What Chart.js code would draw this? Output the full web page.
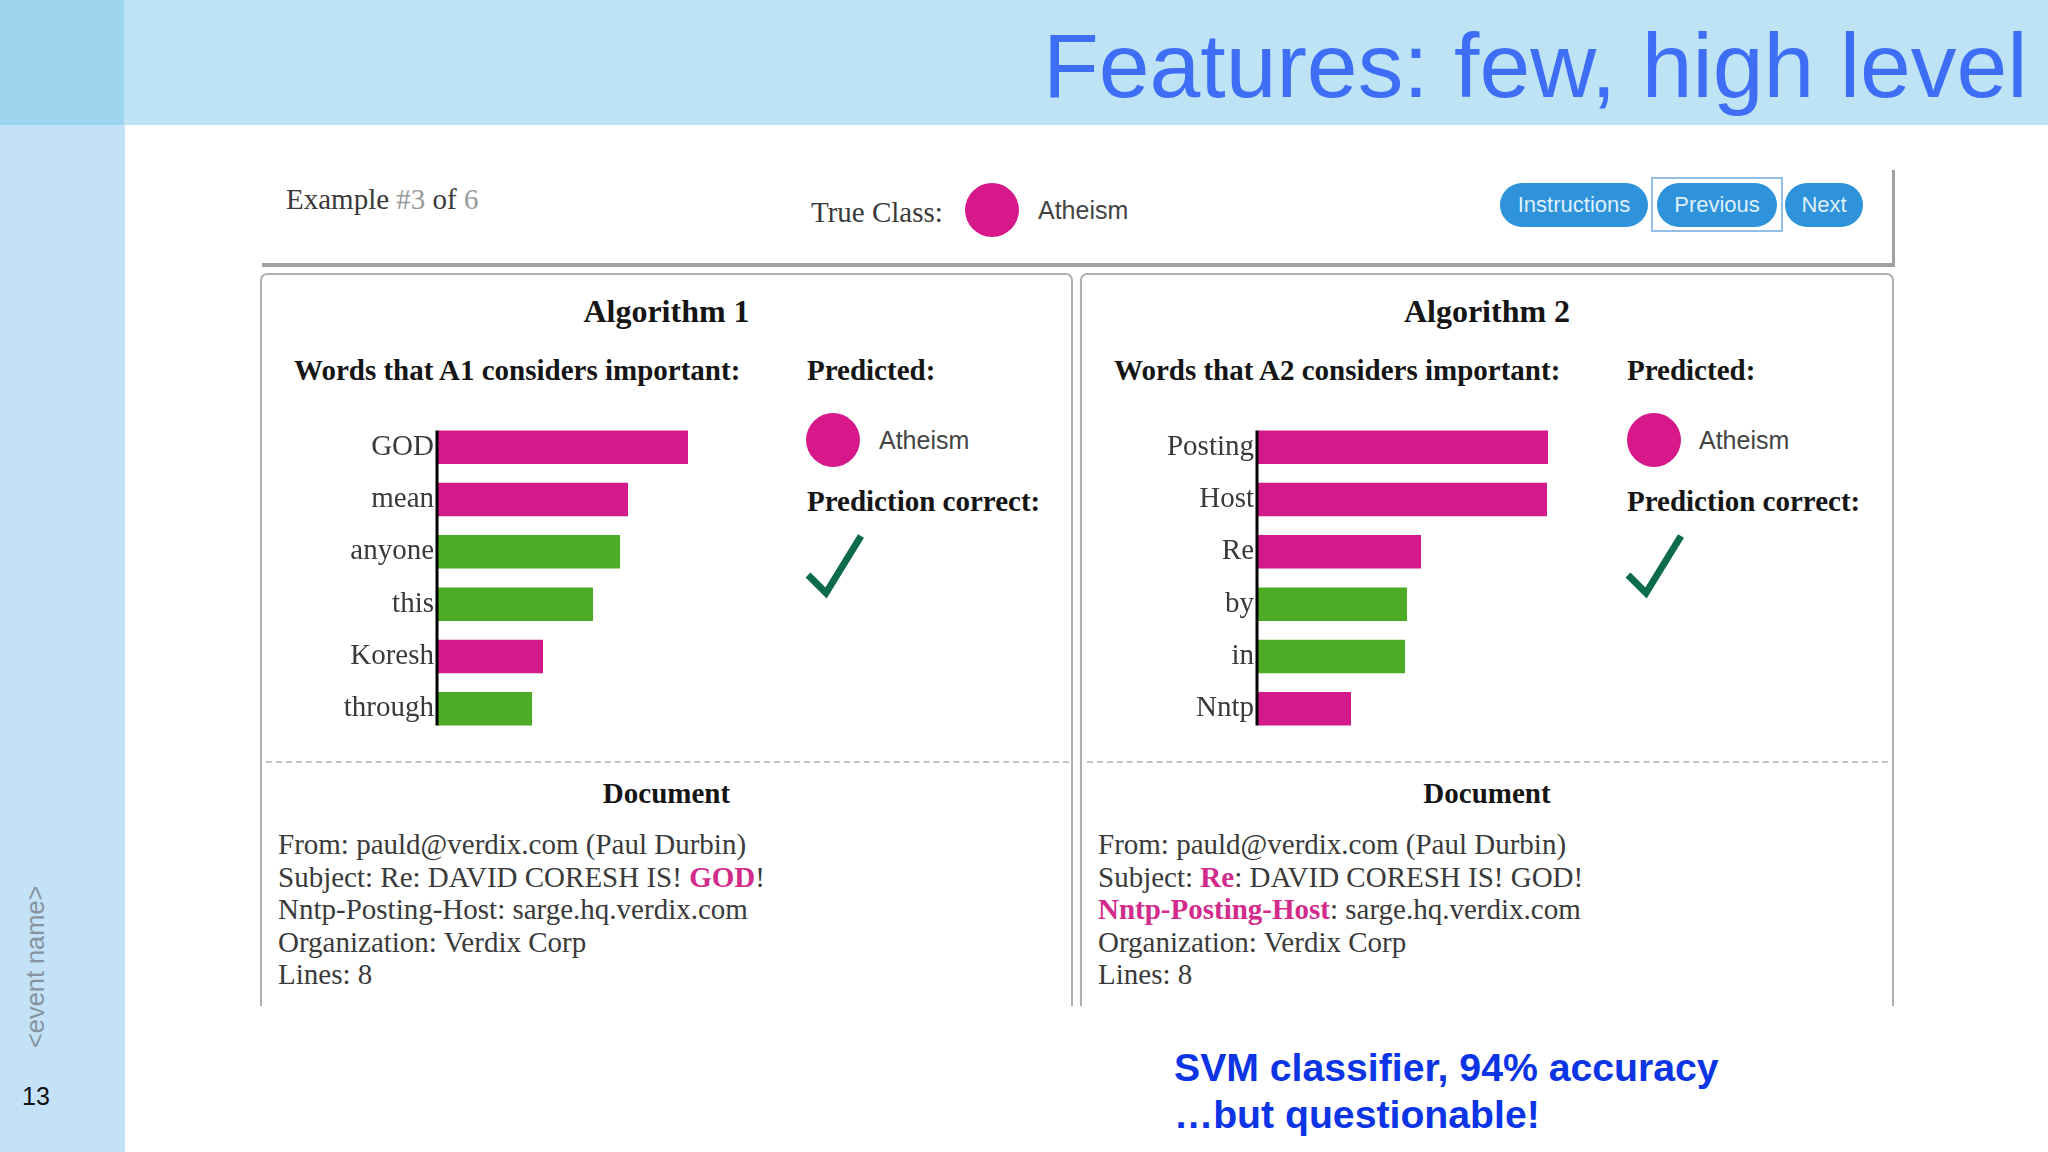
<!DOCTYPE html>
<html>
<head>
<meta charset="utf-8">
<title>Features: few, high level</title>
<script src="https://cdn.jsdelivr.net/npm/chart.js@4"></script>
<style>
html, body { margin: 0; padding: 0; background: #fff; }
body { position: relative; width: 2048px; height: 1152px; overflow: hidden; }
.abs { position: absolute; white-space: nowrap; }
.band { position: absolute; }
.serif { font-family: "Liberation Serif", serif; font-size: 29px; line-height: 29px; color: #3a3a3a; }
.head { font-weight: bold; color: #151515; }
.sans { font-family: "Liberation Sans", sans-serif; }
.atheism { font-size: 25px; line-height: 25px; color: #444; }
.dot { position: absolute; width: 54px; height: 54px; border-radius: 50%; background: #d6188a; }
.btn { position: absolute; top: 183px; height: 44px; border-radius: 22px; background: #2f93dc; color: #dff0fb;
       font: 22px/44px "Liberation Sans", sans-serif; text-align: center; }
.panel { position: absolute; top: 273px; width: 808px; height: 733px; box-sizing: border-box;
         border: 2px solid #b0b0b4; border-bottom: none; border-radius: 7px 7px 0 0; }
.dash { position: absolute; top: 761px; height: 0; border-top: 2px dashed #c4c4c4; }
.doc { font-family: "Liberation Serif", serif; font-size: 29px; line-height: 32.6px; color: #3a3a3a; }
.hit { color: #d32b8c; font-weight: bold; }
canvas { position: absolute; }
</style>
</head>
<body>
<div class="band" style="left:0;top:0;width:2048px;height:125px;background:#bde3f5"></div>
<div class="band" style="left:0;top:125px;width:125px;height:1027px;background:#c3e2f7"></div>
<div class="band" style="left:0;top:0;width:124px;height:125px;background:#9dd4ee"></div>

<div class="abs sans" style="left:1043px;top:20px;font-size:91.3px;line-height:90px;color:#3d6ef5">Features: few, high level</div>
<div class="abs sans" style="left:35px;top:1048px;font-size:25.4px;line-height:25px;color:#87949f;transform-origin:0 0;transform:rotate(-90deg) translateY(-12px)">&lt;event name&gt;</div>
<div class="abs sans" style="left:22px;top:1084px;font-size:25px;line-height:25px;color:#111">13</div>

<!-- top strip -->
<div class="band" style="left:262px;top:170px;width:1630px;height:93px;border-right:3px solid #a0a0a0;border-bottom:4px solid #a0a0a0"></div>
<div class="abs serif" style="left:286px;top:185px">Example <span style="color:#999">#3</span> of <span style="color:#999">6</span></div>
<div class="abs serif" style="left:811px;top:198px">True Class:</div>
<div class="dot" style="left:965px;top:183px"></div>
<div class="abs sans atheism" style="left:1038px;top:198px">Atheism</div>
<div class="btn" style="left:1500px;width:148px">Instructions</div>
<div class="band" style="left:1651px;top:177px;width:128px;height:51px;border:2px solid #93bfe6"></div>
<div class="btn" style="left:1657px;width:120px">Previous</div>
<div class="btn" style="left:1785px;width:78px">Next</div>

<!-- left panel -->
<div class="panel" style="left:260px;width:813px"></div>
<div class="abs serif head" style="left:260px;width:813px;top:295px;text-align:center;font-size:32px;line-height:32px">Algorithm 1</div>
<div class="abs serif head" style="left:294px;top:356px">Words that A1 considers important:</div>
<div class="abs serif head" style="left:807px;top:356px">Predicted:</div>
<div class="dot" style="left:806px;top:413px"></div>
<div class="abs sans atheism" style="left:879px;top:428px">Atheism</div>
<div class="abs serif head" style="left:807px;top:487px">Prediction correct:</div>
<svg class="abs" style="left:800px;top:530px" width="70" height="70"><polyline points="8,45 26,63 61,6" fill="none" stroke="#0b6b4b" stroke-width="7"/></svg>
<canvas id="chartA1" style="left:260px;top:421px" width="540" height="314"></canvas>
<div class="dash" style="left:266px;width:803px"></div>
<div class="abs serif head" style="left:260px;width:813px;top:779px;text-align:center">Document</div>
<div class="abs doc" style="left:278px;top:828px">From: pauld@verdix.com (Paul Durbin)<br>Subject: Re: DAVID CORESH IS! <span class="hit">GOD</span>!<br>Nntp-Posting-Host: sarge.hq.verdix.com<br>Organization: Verdix Corp<br>Lines: 8</div>

<!-- right panel -->
<div class="panel" style="left:1080px;width:814px"></div>
<div class="abs serif head" style="left:1080px;width:814px;top:295px;text-align:center;font-size:32px;line-height:32px">Algorithm 2</div>
<div class="abs serif head" style="left:1114px;top:356px">Words that A2 considers important:</div>
<div class="abs serif head" style="left:1627px;top:356px">Predicted:</div>
<div class="dot" style="left:1627px;top:413px"></div>
<div class="abs sans atheism" style="left:1699px;top:428px">Atheism</div>
<div class="abs serif head" style="left:1627px;top:487px">Prediction correct:</div>
<svg class="abs" style="left:1620px;top:530px" width="70" height="70"><polyline points="8,45 26,63 61,6" fill="none" stroke="#0b6b4b" stroke-width="7"/></svg>
<canvas id="chartA2" style="left:1080px;top:421px" width="540" height="314"></canvas>
<div class="dash" style="left:1087px;width:801px"></div>
<div class="abs serif head" style="left:1080px;width:814px;top:779px;text-align:center">Document</div>
<div class="abs doc" style="left:1098px;top:828px">From: pauld@verdix.com (Paul Durbin)<br>Subject: <span class="hit">Re</span>: DAVID CORESH IS! GOD!<br><span class="hit">Nntp-Posting-Host</span>: sarge.hq.verdix.com<br>Organization: Verdix Corp<br>Lines: 8</div>

<div class="abs sans" style="left:1174px;top:1044px;font-size:39.2px;line-height:47px;font-weight:bold;color:#0a34e4">SVM classifier, 94% accuracy<br>…but questionable!</div>

<script>
'use strict';
// =============== data ===============
const a1Words = ['GOD', 'mean', 'anyone', 'this', 'Koresh', 'through'];
const a1Values = [0.250, 0.190, 0.182, 0.155, 0.105, 0.094];
const a1Groups = ['atheism', 'atheism', 'other', 'other', 'atheism', 'other'];

const a2Words = ['Posting', 'Host', 'Re', 'by', 'in', 'Nntp'];
const a2Values = [0.290, 0.289, 0.163, 0.149, 0.147, 0.093];
const a2Groups = ['atheism', 'atheism', 'atheism', 'other', 'other', 'atheism'];

const groupColors = { atheism: '#d31a8b', other: '#4eab26' };

// =============== black axis, as long as the bars ===============
const barAxis = {
    id: 'barAxis',
    afterDatasetsDraw(chart) {
        const bars = chart.getDatasetMeta(0).data;
        const first = bars[0], last = bars[bars.length - 1];
        const ctx = chart.ctx;
        ctx.save();
        ctx.strokeStyle = '#000';
        ctx.lineWidth = 3;
        ctx.beginPath();
        ctx.moveTo(chart.chartArea.left - 1, first.y - first.height / 2);
        ctx.lineTo(chart.chartArea.left - 1, last.y + last.height / 2);
        ctx.stroke();
        ctx.restore();
    }
};

// =============== charts ===============
function drawWords(id, words, values, groups) {
    return new Chart(document.getElementById(id), {
        type: 'bar',
        data: {
            labels: words,
            datasets: [{
                data: values,
                backgroundColor: groups.map((g) => groupColors[g]),
                barPercentage: 0.8,
                categoryPercentage: 0.8
            }]
        },
        options: {
            indexAxis: 'y',
            responsive: false,
            animation: false,
            layout: { padding: 0 },
            plugins: { legend: { display: false }, tooltip: { enabled: false } },
            scales: {
                x: { display: false, min: 0, max: 0.362 },
                y: {
                    afterFit(scale) {
                        // labels must not shrink the plot height
                        scale.width = 178;
                        scale.paddingTop = 0;
                        scale.paddingBottom = 0;
                    },
                    border: { display: false },
                    grid: { display: false, drawTicks: false },
                    ticks: {
                        color: '#3a3a3a',
                        padding: 4,
                        font: { family: 'Liberation Serif', size: 29 }
                    }
                }
            }
        },
        plugins: [barAxis]
    });
}

drawWords('chartA1', a1Words, a1Values, a1Groups);
drawWords('chartA2', a2Words, a2Values, a2Groups);
</script>
</body>
</html>
